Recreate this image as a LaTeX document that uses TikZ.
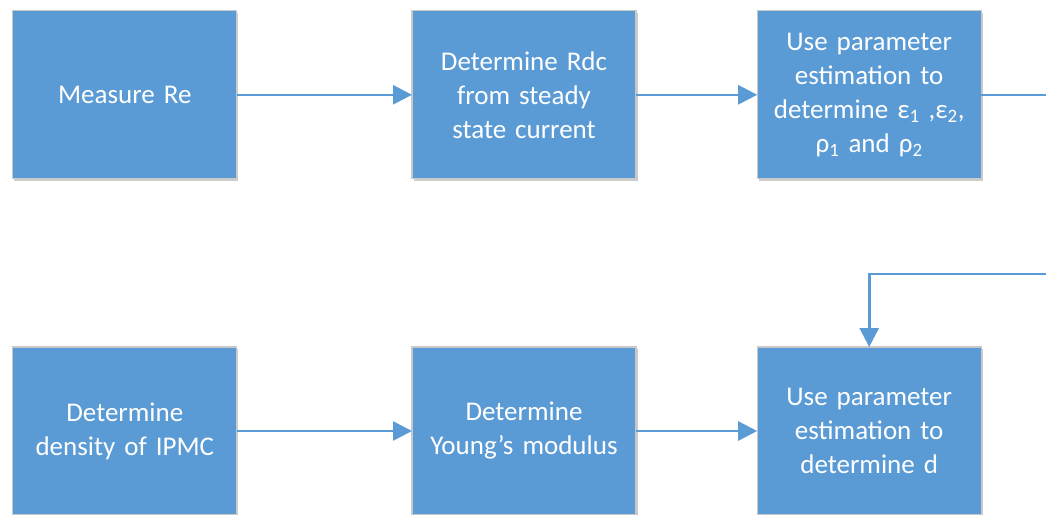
\documentclass[tikz,border=0pt]{standalone}
\usepackage{fontspec}
\setmainfont{Carlito}
\usetikzlibrary{matrix,arrows.meta,shadows}

\definecolor{procblue}{HTML}{5B9BD5}
\definecolor{procedge}{HTML}{C8C8C8}

\begin{document}
\begin{tikzpicture}[x=1pt,y=1pt,
  proc/.style={rectangle, fill=procblue, draw=procedge, line width=1.2pt,
    minimum width=224pt, minimum height=168pt, inner sep=0pt, outer sep=0pt,
    text width=220pt, align=center, text=white,
    font=\fontsize{27}{34}\selectfont,
    drop shadow={shadow xshift=1.5pt, shadow yshift=-2pt, opacity=0.2, fill=black}},
  link/.style={draw=procblue, line width=2.6pt, -{Triangle[length=19pt,width=19pt]}}]

  \useasboundingbox (0,0) rectangle (1046,-514);
  \clip (0,0) rectangle (1046,-514);

  \matrix (m) [column sep=174pt, row sep=167pt, inner sep=0pt, anchor=north west] at (12,-10) {
    \node (re) [proc] {Measure Re}; &
    \node (rdc) [proc] {Determine Rdc\\from steady\\state current}; &[-54pt]
    \node (eps) [proc] {Use parameter\\estimation to\\determine ε\textsubscript{1} ,ε\textsubscript{2},\\ρ\textsubscript{1} and ρ\textsubscript{2}}; \\
    \node (dens) [proc] {Determine\\density of IPMC}; &
    \node (young) [proc] {Determine\\Young’s modulus}; &[-54pt]
    \node (d) [proc] {Use parameter\\estimation to\\determine d}; \\
  };

  % feedback from the top row down to the last step
  \coordinate (turn) at (1070,-274);

  \path
    (re)    edge[link] (rdc)
    (rdc)   edge[link] (eps)
    (dens)  edge[link] (young)
    (young) edge[link] (d);
  \draw[link] (eps.east) -| (turn) -| (d.north);
\end{tikzpicture}
\end{document}
